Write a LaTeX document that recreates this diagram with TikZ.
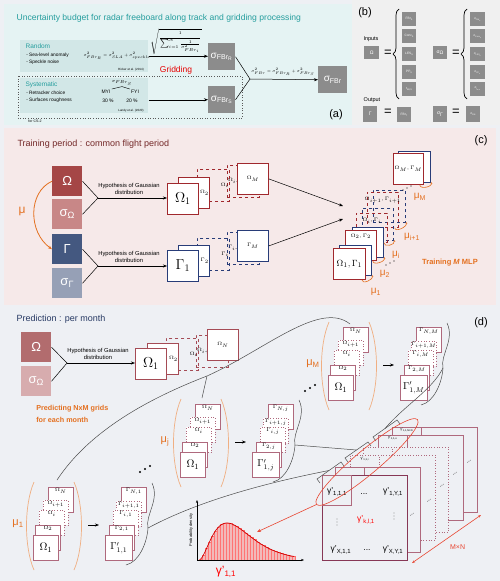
\documentclass[tikz,border=0pt]{standalone}
\usepackage{fontspec}
\setmainfont{Liberation Sans}
\usetikzlibrary{positioning,calc,arrows.meta,shapes.geometric,decorations.pathreplacing}

\definecolor{bgall}{RGB}{238,240,244}
\definecolor{bga}{RGB}{229,243,243}
\definecolor{bgb}{RGB}{240,240,240}
\definecolor{bgc}{RGB}{246,233,233}
\definecolor{tealt}{RGB}{38,158,158}
\definecolor{tealbx}{RGB}{210,231,231}
\definecolor{boxgray}{RGB}{140,140,140}
\definecolor{cOm}{RGB}{165,70,70}
\definecolor{cSo}{RGB}{200,135,135}
\definecolor{cGa}{RGB}{68,88,128}
\definecolor{cSg}{RGB}{150,160,182}
\definecolor{stkR}{RGB}{160,40,45}
\definecolor{stkB}{RGB}{40,60,120}
\definecolor{orng}{RGB}{228,112,32}
\definecolor{orngl}{RGB}{240,175,130}
\definecolor{ctitle}{RGB}{115,40,40}
\definecolor{dtitle}{RGB}{40,58,100}
\definecolor{dOm}{RGB}{178,108,110}
\definecolor{dSo}{RGB}{215,172,174}
\definecolor{mauve}{RGB}{175,105,125}
\definecolor{dstkR}{RGB}{165,75,85}
\definecolor{gridfront}{RGB}{135,55,85}
\definecolor{ellred}{RGB}{232,70,50}
\definecolor{histfill}{RGB}{242,185,185}

\newcommand{\sub}[1]{\textsubscript{#1}}
\newcommand{\fs}[1]{\fontsize{#1}{#1}\selectfont}

\tikzset{
  gbox/.style={fill=boxgray, text=white, inner sep=0pt, anchor=north west},
  tealbox/.style={fill=tealbx, anchor=north west, inner sep=0pt},
  big/.style={fill=#1, text=white, anchor=north west, minimum width=30pt, minimum height=30pt, inner sep=0pt, font=\fs{13}},
  stk/.style={draw=#1, fill=white, line width=0.8pt, anchor=north west, minimum width=31pt, minimum height=31pt, inner sep=0pt},
  dstk/.style={draw=#1, dashed, line width=0.8pt, anchor=north west, minimum width=32pt, minimum height=32pt, inner sep=0pt},
  sbox/.style={draw=mauve, fill=white, line width=0.7pt, anchor=north west, minimum width=25pt, minimum height=25pt, inner sep=0pt},
  dbox/.style={sbox, dotted},
  hyp/.style={font=\fontsize{5.8}{6.6}\selectfont, align=center, inner sep=0pt},
  tl/.style={font=\fs{4.3}, inner sep=0.8pt},
  mulab/.style={text=orng, font=\fs{11}, inner sep=0pt},
  gridlayer/.style={draw=mauve, fill=bgall, line width=0.7pt, anchor=north west, minimum width=85pt, minimum height=85pt, inner sep=0pt},
  cell/.style={draw=mauve, fill=bgall, line width=0.6pt, anchor=north west, minimum width=29pt, minimum height=30pt, inner sep=0pt},
  gtx/.style={font=\fs{8.5}, inner sep=0.5pt},
  callout/.style={gray!60!black, line width=0.5pt},
}

\begin{document}
\begin{tikzpicture}[x=1pt, y=-1pt, >={Stealth[length=4pt]}, line width=0.5pt]
\useasboundingbox (0,0) rectangle (500,581);
% panels
\fill[bgall] (0,0) rectangle (500,581);
\fill[bga] (4,4) rectangle (352,125);
\fill[bgb] (352,0) rectangle (500,125);
\fill[bgc] (4,128) rectangle (496,305);

% ---------------- (a) ----------------
\node[anchor=base west, text=tealt, font=\fs{8.6}] (ttla) at (13,20) {Uncertainty budget for radar freeboard along track and gridding processing};
\node[tealbox, minimum width=128pt, minimum height=32pt] (rand) at (20,40) {};
\node[anchor=base west, text=tealt, font=\fs{6.5}] (randt) at (22,48) {Random};
\node[anchor=north west, align=left, font=\fontsize{4.8}{7}\selectfont, inner sep=0pt] (randl) at (26,53) {- Sea-level anomaly\\- Speckle noise};
\node[font=\fs{5}, inner sep=0pt] (frand) at (117,56) {\scalebox{0.75}{$\sigma^2_{FBr_R}=\sigma^2_{SLA}+\sigma^2_{speckle}$}};
\node[font=\fs{3}] (rick) at (131,70) {Ricker et al. (2014)};
\draw[dotted, gray!70!black, line width=0.6pt] (18,76) rectangle (242,118);
\node[tealbox, minimum width=128pt, minimum height=35pt] (syst) at (20,78) {};
\node[anchor=base west, text=tealt, font=\fs{6.5}] (systt) at (22,86) {Systematic};
\node[anchor=north west, align=left, font=\fontsize{4.8}{7}\selectfont, inner sep=0pt] (systl) at (26,91) {- Retracker choice\\- Surfaces roughness};
\node[font=\fs{5}, inner sep=1pt] (sgs) at (122,83) {\scalebox{0.85}{$\sigma_{FBr_S}$}};
\node[font=\fs{5}, inner sep=1pt] (myi) at (106,92) {MYI};
\node[font=\fs{5}, inner sep=1pt] (fyi) at (135,92) {FYI};
\draw[line width=0.4pt] (sgs.south) -- (myi.north east);
\draw[line width=0.4pt] (sgs.south) -- (fyi.north west);
\node[font=\fs{5}] (p30) at (108,101) {30 \%};
\node[font=\fs{5}] (p20) at (132,101) {20 \%};
\node[font=\fs{3}] (landy) at (131,111) {Landy et al. (2020)};
\node[font=\fs{3.5}] (cs2) at (35,121) {for CS-2};

\node[gbox, minimum width=27pt, minimum height=27pt, font=\fs{10}] (sgr) at (208,43) {σ\sub{FBr\sub{R}}};
\node[gbox, minimum width=27pt, minimum height=27pt, font=\fs{10}] (sgb) at (208,86) {σ\sub{FBr\sub{S}}};
\node[gbox, minimum width=29pt, minimum height=27pt, font=\fs{10}] (sgt) at (318,66) {σ\sub{FBr}};
\draw[->] (rand.east) -- (rand.east -| sgr.west);
\draw[->] (syst.east |- sgb.west) -- (sgb.west);
\node[font=\fs{5}, inner sep=0pt] (sqf) at (176,42) {\scalebox{0.85}{$\sqrt{\displaystyle\frac{1}{\sum_{i=1}^{N}\frac{1}{\sigma^2_{FBr_i}}}}$}};
\node[text=red!90!black, font=\fs{8.5}] (grd) at (176,70) {Gridding};
\coordinate (cva) at (250,79);
\draw (sgr.east) -- (cva) -- (sgb.east);
\draw[->] (cva) -- (sgt.west);
\node[font=\fs{5}, inner sep=0pt] (ftot) at (283,72) {\scalebox{0.75}{$\sigma^2_{FBr}=\sigma^2_{FBr_R}+\sigma^2_{FBr_S}$}};
\node[font=\fs{11}] (laba) at (336,115) {(a)};

% ---------------- (b) ----------------
\node[font=\fs{11}] (labb) at (365,13) {(b)};
\node[font=\fs{5.5}] (inp) at (371,39) {Inputs};
\node[gbox, minimum width=15pt, minimum height=13pt, font=\fs{5}] (bom) at (364,46) {Ω};
\node[font=\fs{13}] (eq1) at (388,53) {=};
\draw[decorate, decoration={brace, amplitude=6pt}, line width=0.7pt] (399,99) -- (399,9);
\foreach \t/\yy [count=\i] in {FBr\sub{S}/12, Conc\sub{S}/29, LES\sub{S}/47, PP\sub{S}/65, t\sub{MI,S}/82}
  \node[gbox, minimum width=14pt, minimum height=14pt, font=\fs{3.2}] (bi\i) at (402,\yy) {\t};
\node[gbox, minimum width=14pt, minimum height=13pt, font=\fs{5}] (bso) at (433,46) {σ\sub{Ω}};
\node[font=\fs{13}] (eq2) at (456,53) {=};
\draw[decorate, decoration={brace, amplitude=6pt}, line width=0.7pt] (467,99) -- (467,9);
\foreach \t/\yy [count=\i] in {σ\sub{FBr\sub{S}}/12, σ\sub{Conc\sub{S}}/29, σ\sub{LES\sub{S}}/47, σ\sub{PP\sub{S}}/65, σ\sub{t\sub{MI,S}}/82}
  \node[gbox, minimum width=15pt, minimum height=14pt, font=\fs{3}] (bs\i) at (470,\yy) {\t};
\node[font=\fs{5.5}] (outp) at (372,100) {Output};
\node[gbox, minimum width=14pt, minimum height=16pt, font=\fs{5}] (bga) at (363,106) {Γ};
\node[font=\fs{13}] (eq3) at (388,112) {=};
\node[gbox, minimum width=14pt, minimum height=15pt, font=\fs{3.2}] (bfb) at (397,107) {FBr\sub{T}};
\node[gbox, minimum width=14pt, minimum height=16pt, font=\fs{5}] (bsg) at (433,106) {σ\sub{Γ}};
\node[font=\fs{13}] (eq4) at (456,112) {=};
\node[gbox, minimum width=14pt, minimum height=16pt, font=\fs{3}] (bsf) at (466,106) {σ\sub{FBr}};

% ---------------- (c) ----------------
\node[anchor=base west, text=ctitle, font=\fs{9}] (ttlc) at (14,146) {Training period : common flight period};
\node[font=\fs{11}] (labc) at (481,141) {(c)};
\node[big=cOm] (om) at (52,166) {Ω};
\node[big=cSo] (so) at (52,199) {σ\sub{Ω}};
\node[big=cGa] (ga) at (52,234) {Γ};
\node[big=cSg] (sg) at (52,268) {σ\sub{Γ}};
\draw[->, orng, line width=0.8pt] (om.west) .. controls (28,192) and (28,232) .. (ga.west);
\node[mulab, font=\fs{12}] (mu) at (22,211) {μ};

% Omega and Gamma stacks
\node[dstk=stkR, label={[tl,anchor=west]west:$\Omega_{i+1}$}] (o4) at (227,165) {};
\node[dstk=stkR, label={[tl,anchor=east]east:$\Omega_i$}] (o3) at (197,169) {};
\node[stk=stkR, font=\fs{4.5}] (oM) at (237,163) {$\Omega_M$};
\node[stk=stkR, label={[tl,anchor=east]east:$\Omega_2$}] (o2) at (178,177) {};
\node[stk=stkR, font=\fs{14}] (o1) at (167,183) {$\Omega_1$};
\node[dstk=stkB, label={[tl,anchor=west]west:$\Gamma_{i+1}$}] (g4) at (227,232) {};
\node[dstk=stkB, label={[tl,anchor=east]east:$\Gamma_i$}] (g3) at (197,238) {};
\node[stk=stkB, font=\fs{4.5}] (gM) at (237,230) {$\Gamma_M$};
\node[stk=stkB, label={[tl,anchor=east]east:$\Gamma_2$}] (g2) at (178,245) {};
\node[stk=stkB, font=\fs{14}] (g1) at (167,250) {$\Gamma_1$};

\coordinate (hc1) at (98,198);
\coordinate (hc2) at (98,266);
\draw (om.east) -- (hc1) -- (so.east);
\draw (ga.east) -- (hc2) -- (sg.east);
\draw[->] (hc1) -- (hc1 -| o1.west);
\draw[->] (hc2) -- (hc2 -| g1.west);
\node[hyp] (hy1) at (129,189) {Hypothesis of Gaussian\\distribution};
\node[hyp] (hy2) at (129,257) {Hypothesis of Gaussian\\distribution};

% training pairs
\node[stk=stkB, minimum width=32pt] (bM) at (398,151) {};
\node[stk=stkR, minimum width=30pt, font=\fs{4.3}] (rM) at (393,153) {$\Omega_M,\Gamma_M$};
\node[dstk=stkB, minimum width=32pt, minimum height=32pt] (bP) at (373,190) {};
\node[dstk=stkR, minimum width=31pt, minimum height=35pt, label={[tl,anchor=north,yshift=-4pt]north:$\Omega_{i+1},\Gamma_{i+1}$}] (rP) at (367,192) {};
\node[dstk=stkB, minimum width=31pt, minimum height=32pt] (bI) at (362,208) {};
\node[dstk=stkR, minimum width=31pt, minimum height=29pt, label={[tl,anchor=north,yshift=-4pt]north:$\Omega_i,\Gamma_i$}] (rI) at (356,213) {};
\node[stk=stkB, minimum height=30pt] (b2) at (352,227) {};
\node[stk=stkR, minimum height=30pt, label={[tl,anchor=north,yshift=-3pt]north:$\Omega_2,\Gamma_2$}] (r2) at (345,230) {};
\node[stk=stkB, minimum width=32pt, minimum height=30pt] (b1) at (339,245) {};
\node[stk=stkR, minimum width=32pt, minimum height=31pt, font=\fs{9.5}] (r1) at (333,248) {$\Omega_1,\Gamma_1$};
\foreach \r/\b in {r1/b1, r2/b2, rI/bI, rP/bP, rM/bM}
  \draw[->, orng, line width=0.6pt, >={Stealth[length=2.2pt]}] ($(\r.south east)+(-4,0)$) .. controls +(0,5) and +(2,5) .. ($(\b.south east)+(0,-1)$);
\node[mulab, font=\fs{10}] (m1) at (376,292) {μ\sub{1}};
\node[mulab, font=\fs{10}] (m2) at (385,274) {μ\sub{2}};
\node[mulab, font=\fs{10}] (mi) at (396,255) {μ\sub{i}};
\node[mulab, font=\fs{10}] (mp) at (412,237) {μ\sub{i+1}};
\node[mulab, font=\fs{10}] (mM) at (420,197) {μ\sub{M}};
\foreach \p in {(386,265),(390,263),(394,261),(403,190),(407,188),(411,186)}
  \fill \p circle (0.7pt);
\node[text=orng, font=\bfseries\fs{7.5}] (tmlp) at (450,263) {Training \textit{M} MLP};
\coordinate (tia) at (343,206);
\coordinate (tib) at (343,219);
\draw[->] (oM.east) -- (tia);
\draw[->] (gM.east) -- (tib);

% ---------------- (d) ----------------
\node[anchor=base west, text=dtitle, font=\fs{9}] (ttld) at (13,321) {Prediction : per month};
\node[font=\fs{11}] (labd) at (481,323) {(d)};
\node[big=dOm] (dom) at (21,332) {Ω};
\node[big=dSo] (dso) at (21,366) {σ\sub{Ω}};
\node[dstk=dstkR, label={[tl,anchor=west]west:$\Omega_{i+1}$}] (p4) at (196,335) {};
\node[dstk=dstkR, label={[tl,anchor=east]east:$\Omega_i$}] (p3) at (166,338) {};
\node[stk=dstkR, font=\fs{4.5}] (pN) at (207,329) {$\Omega_N$};
\node[stk=dstkR, label={[tl,anchor=east]east:$\Omega_2$}] (p2) at (147,343) {};
\node[stk=dstkR, font=\fs{14}] (p1) at (135,348) {$\Omega_1$};
\coordinate (hc3) at (67,363);
\draw (dom.east) -- (hc3) -- (dso.east);
\draw[->] (hc3) -- (hc3 -| p1.west);
\node[hyp] (hy3) at (98,354) {Hypothesis of Gaussian\\distribution};
\node[anchor=north west, align=left, text=orng, font=\bfseries\fontsize{7.2}{12}\selectfont, inner sep=0pt] (pred) at (36,405) {Predicting NxM grids\\for each month};

% monthly groups
\foreach \gx/\gy/\m in {33/535/1, 180/452/j, 328/375/M} {
  \begin{scope}[shift={(\gx,\gy)}]
    \draw[orngl, line width=0.7pt] (1,-53) .. controls (-9,-30) and (-9,12) .. (1,35);
    \draw[orngl, line width=0.7pt] (41,-53) .. controls (51,-30) and (51,12) .. (41,35);
    \node[mulab] (mu\m) at (-15,-11) {μ\sub{\m}};
    \node[sbox, label={[tl,anchor=north]north:$\Omega_N$}] (oN\m) at (15,-48) {};
    \node[dbox, label={[tl,anchor=north]north:$\Omega_{i+1}$}] (oP\m) at (10,-35) {};
    \node[dbox, label={[tl,anchor=north]north:$\Omega_i$}] (oI\m) at (6,-25) {};
    \node[sbox, label={[tl,anchor=north]north:$\Omega_2$}] (oT\m) at (2,-10) {};
    \node[sbox, font=\fs{11}] (oO\m) at (0,0) {$\Omega_1$};
    \coordinate (aS\m) at (55,-10);
    \coordinate (aE\m) at (66,-10);
    \draw[->] (aS\m) -- (aE\m);
    \node[sbox, label={[tl,anchor=north]north:$\Gamma_{N,\m}$}] (gN\m) at (88,-48) {};
    \node[dbox, label={[tl,anchor=north]north:$\Gamma_{i+1,\m}$}] (gP\m) at (83,-34) {};
    \node[dbox, label={[tl,anchor=north]north:$\Gamma_{i,\m}$}] (gI\m) at (80,-25) {};
    \node[sbox, label={[tl,anchor=north]north:$\Gamma_{2,\m}$}] (gT\m) at (76,-10) {};
    \node[sbox, minimum width=27pt, font=\fs{10}] (gO\m) at (72,0) {$\Gamma'_{1,\m}$};
    \coordinate (jn\m) at (115,-7);
    \draw[callout] (119,-52) .. controls (127,-35) and (112,-20) .. (jn\m) .. controls (114,8) and (106,27) .. (93,30);
  \end{scope}
}
\foreach \p in {(140,472),(145,469),(150,466),(305,391),(310,388),(315,385)}
  \fill \p circle (1.1pt);

% callout from the grid stack to the months
\coordinate (cj) at (207,376);
\coordinate (cm) at (350,324);
\coordinate (c1) at (57,480);
\coordinate (cjj) at (202,398);
\draw[callout] (c1) .. controls (90,430) and (150,398) .. (cj) .. controls (265,350) and (320,300) .. (cm);
\draw[callout] (cj) -- (cjj);

% grid stack
\node[gridlayer] (L6) at (392,427) {};
\node[cell, label={[tl,anchor=north,font=\fs{3.6}]north:γ'\sub{1,1,M×N}}] (c6) at (392,427) {};
\node[gridlayer] (L5) at (378,435) {};
\node[cell, label={[tl,anchor=north,font=\fs{3.8}]north:γ'\sub{1,1,o}}] (c5) at (378,435) {};
\node[gridlayer, dotted] (L4) at (363,447) {};
\node[cell, dotted] (c4) at (363,447) {};
\node[gridlayer, dotted] (L3) at (350,455) {};
\node[cell, dotted, label={[tl,anchor=north,font=\fs{3.8},yshift=-1pt]north:γ'\sub{1,1,i}}] (c3) at (350,455) {};
\node[gridlayer] (L2) at (335,467) {};
\node[cell] (c2) at (335,467) {};
\node[gridlayer, draw=gridfront, line width=0.8pt] (L1) at (322,475) {};
\node[cell] (c1c) at (322,475) {};
\foreach \p [count=\i] in {(412,515),(429,501),(442,486),(455,474),(469,462)}
  \node[font=\fs{6}, rotate=40, inner sep=0pt] (ed\i) at \p {...};
\node[gtx] (g111) at (337,492) {γ'\sub{1,1,1}};
\node[gtx] (gd1) at (364,494) {...};
\node[gtx] (g1Y1) at (393,492) {γ'\sub{1,Y,1}};
\node[gtx, text=red] (gkl) at (366,520) {γ'\sub{k,l,1}};
\foreach \vx/\vy in {337/522, 394/516}
  \foreach \dy in {-3,0,3}
    \fill (\vx,\vy+\dy) circle (0.45pt);
\node[gtx] (gX11) at (341,550) {γ'\sub{X,1,1}};
\node[gtx] (gd2) at (367,550) {...};
\node[gtx] (gXY1) at (393,550) {γ'\sub{X,Y,1}};

% brackets on the grid stack
\coordinate (br1a) at (317,479); \coordinate (br1b) at (341,462);
\coordinate (br2a) at (345,458); \coordinate (br2b) at (368,442);
\coordinate (br3a) at (373,437); \coordinate (br3b) at (397,420);
\foreach \k in {1,2,3} {
  \draw[callout] ($(br\k a)+(3,4)$) -- (br\k a) -- (br\k b) -- ($(br\k b)+(3,4)$);
  \coordinate (br\k) at ($(br\k a)!0.5!(br\k b)$);
}
\draw[callout] (jn1) .. controls (200,500) and (270,482) .. (br1);
\draw[callout] (jnj) -- (br2);
\draw[callout] (jnM) .. controls (432,390) and (405,405) .. (br3);

% histogram
\coordinate (hO) at (197,560);
\coordinate (hY) at (197,500);
\coordinate (hX) at (304,560);
\foreach \b in {0,...,31} {
  \pgfmathsetmacro\hh{37*((\b*3+1.5)/28)^2*exp(2*(1-(\b*3+1.5)/28))}
  \draw[fill=histfill, draw=red!55, line width=0.3pt] (199+3*\b,560) rectangle (202+3*\b,560-\hh);
}
\draw[red!80!black, line width=0.7pt] plot[domain=0.05:3.4, samples=60] ({199+28*\x}, {560-37*(\x)^2*exp(2*(1-\x))});
\draw[->, >={Stealth[length=3pt]}] (hO) -- (hY);
\draw[->, >={Stealth[length=3pt]}] (hO) -- (hX);
\node[rotate=90, font=\fs{4}] (pdl) at (191,530) {Probability density};
\node[text=red, font=\fs{12}] (g11) at (226,572) {γ'\sub{1,1}};
\coordinate (hpk) at (257,532);

% red marks
\node[draw=ellred, line width=0.6pt, ellipse, minimum width=132pt, minimum height=24pt, rotate=40] (ell) at (367,462) {};
\draw[->, ellred, line width=0.6pt] (ell.west) -- (hpk);
\coordinate (mn1) at (412,563);
\coordinate (mn2) at (481,515);
\draw[<->, ellred, line width=0.6pt, >={Stealth[length=3pt]}] (mn1) -- (mn2) node[midway, below right=2pt and 0pt, text=ellred, font=\fs{7}] (mnl) {M×N};
\end{tikzpicture}
\end{document}
